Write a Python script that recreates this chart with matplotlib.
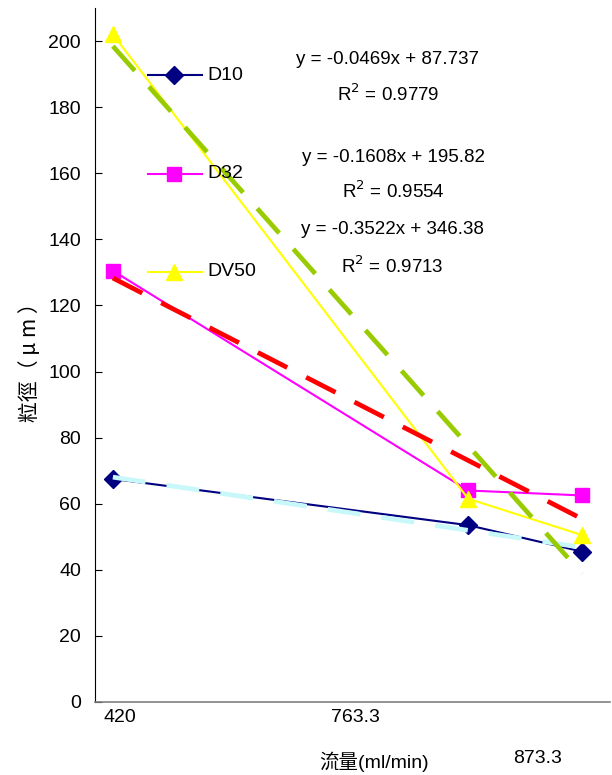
import numpy as np
import matplotlib
matplotlib.use("Agg")
import matplotlib.pyplot as plt
from matplotlib import font_manager
import matplotlib.transforms as mtransforms

# data
flow = [420, 763.3, 873.3]
d10 = [67.5, 53.5, 45.5]
d32 = [130.5, 64.0, 62.5]
dv50 = [202.0, 61.5, 50.5]
series_names = ["D10", "D32", "DV50"]
tick_labels = ["420", "763.3", "873.3"]
equations = [("y = -0.0469x + 87.737", "0.9779"),
             ("y = -0.1608x + 195.82", "0.9554"),
             ("y = -0.3522x + 346.38", "0.9713")]
trend_coef = [(-0.0469, 87.737), (-0.1608, 195.82), (-0.3522, 346.38)]

names = {f.name for f in font_manager.fontManager.ttflist}
base = "Liberation Sans Narrow" if "Liberation Sans Narrow" in names else "Liberation Sans"
plt.rcParams['font.family'] = [base, 'Noto Sans CJK TC', 'DejaVu Sans']

fig = plt.figure(figsize=(6.12, 7.75), dpi=100)
ax = fig.add_axes([0.155, 0.0942, 0.842, 0.8955])

line_cols = ["#000080", "#FF00FF", "#FFFF00"]
markers = ["D", "s", "^"]
msizes = [9, 10, 12]
trend_cols = ["#C8F8FA", "#FF0000", "#99CC00"]

x = np.array(flow)
for ys, c, m, ms, name in zip([d10, d32, dv50], line_cols, markers, msizes, series_names):
    ax.plot(x, ys, color=c, lw=1.5, marker=m, markersize=ms, markeredgecolor=c,
            markerfacecolor=c, label=name, zorder=3)

xt = np.array([flow[0], flow[-1]])
for (a, b), c in zip(trend_coef, trend_cols):
    ax.plot(xt, a * xt + b, color=c, lw=3.4, dashes=(7, 4.5), zorder=4,
            dash_capstyle='butt')

ax.set_xlim(402.6, 900.4)
ax.set_ylim(0, 210)
ax.set_yticks(np.arange(0, 201, 20))
ax.set_xticks([])
ax.tick_params(axis='y', direction='in', length=5, labelsize=14, pad=10)
for s in ["top", "right"]:
    ax.spines[s].set_visible(False)
ax.spines["bottom"].set_color("#808080")
ax.spines["bottom"].set_linewidth(1.2)

# hand placed category labels
trans = mtransforms.blended_transform_factory(ax.transData, ax.transAxes)
lab_x = [426.8, 653.9, 829.8]
lab_y = [-0.023, -0.023, -0.081]
for t, lx, ly in zip(tick_labels, lab_x, lab_y):
    ax.text(lx, ly, t, transform=trans, ha='center', va='center', fontsize=14)

# equations
eq_y = [(60, 94), (157, 191), (230, 266)]
for (eq, r2), (py1, py2), dx in zip(equations, eq_y, [0, 5, 4]):
    fig.text((388 + dx) / 612, 1 - py1 / 775, eq, ha='center', va='center', fontsize=13.5)
    fig.text((388 + dx) / 612, 1 - py2 / 775, "R$^{2}$ = " + r2, ha='center', va='center', fontsize=13.5)

# legend
leg_y = [75, 174, 272]
for ys_px, c, m, ms, name in zip(leg_y, line_cols, markers, msizes, series_names):
    fy = 1 - ys_px / 775
    fig.add_artist(plt.Line2D([148 / 612, 202 / 612], [fy, fy], color=c, lw=1.5,
                              transform=fig.transFigure))
    fig.add_artist(plt.Line2D([174 / 612], [fy], color=c, marker=m, markersize=ms,
                              markerfacecolor=c, markeredgecolor=c, transform=fig.transFigure))
    fig.text(207 / 612, fy, name, ha='left', va='center', fontsize=14)

fig.text(30 / 612, 1 - 357 / 775, "粒徑（ μ m ）", rotation=90, ha='center', va='center',
         fontsize=15, family=['Noto Sans CJK TC', 'DejaVu Sans'])
fig.text(374 / 612, 1 - 762 / 775, "流量(ml/min)", ha='center', va='center', fontsize=14,
         family=[base, 'Noto Sans CJK TC', 'DejaVu Sans'])

fig.savefig("out.png", dpi=100)
